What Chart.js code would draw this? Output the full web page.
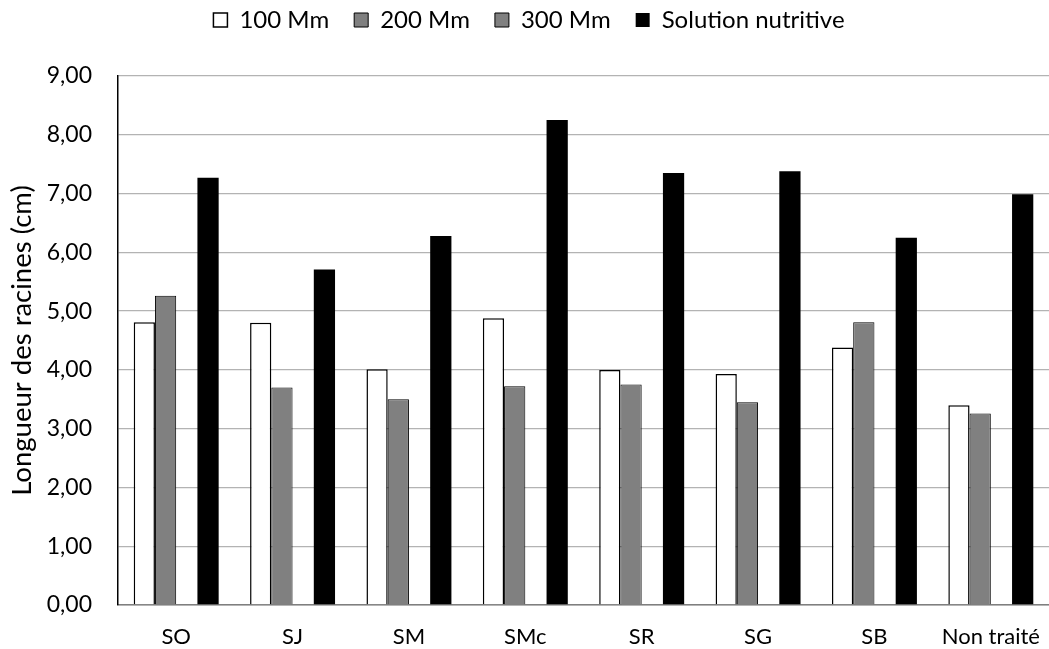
<!DOCTYPE html>
<html><head><meta charset="utf-8">
<script src="https://cdn.jsdelivr.net/npm/chart.js@4/dist/chart.umd.min.js"></script>
<style>html,body{margin:0;padding:0;background:#fff}#wrap{width:1049px;height:649px;position:relative}</style>
</head><body><div id="wrap"><canvas id="c" width="1049" height="649"></canvas></div>
<script>
const categories = ["SO","SJ","SM","SMc","SR","SG","SB","Non traité"];
const s100 = [4.81,4.80,4.01,4.88,4.00,3.93,4.38,3.40];
const s200 = [5.26,3.70,3.50,3.72,3.75,3.45,4.81,3.26];
const s300 = [null,null,null,null,null,null,null,null];
const sSol = [7.27,5.71,6.28,8.25,7.35,7.38,6.25,6.99];
const seriesNames = ["100 Mm","200 Mm","300 Mm","Solution nutritive"];
const yTicks = [0,1,2,3,4,5,6,7,8,9];

const FONT = "Lato, 'Liberation Sans', sans-serif";
Chart.defaults.font.family = FONT;
Chart.defaults.color = '#000';

const legendFix = {id:'legendFix', beforeLayout(chart){
  const lg = chart.legend;
  if (lg && !lg._patched) { const f = lg.fit; lg.fit = function(){ f.call(this); this.height = 93; }; lg._patched = true; }
}};

new Chart(document.getElementById('c'), {
  type: 'bar',
  data: {
    labels: categories,
    datasets: [
      {label: seriesNames[0], data: s100, backgroundColor:'#ffffff', borderColor:'#000', borderWidth:1.5},
      {label: seriesNames[1], data: s200, backgroundColor:'#808080', borderColor:'#000', borderWidth:1},
      {label: seriesNames[2], data: s300, backgroundColor:'#808080', borderColor:'#000', borderWidth:1},
      {label: seriesNames[3], data: sSol, backgroundColor:'#000000', borderColor:'#000', borderWidth:0}
    ]
  },
  plugins:[legendFix],
  options: {
    responsive:false, animation:false,
    layout:{padding:{left:6,right:-3,top:-17,bottom:0}},
    datasets:{bar:{barPercentage:1.0, categoryPercentage:0.73}},
    plugins:{
      tooltip:{enabled:false},
      legend:{position:'top', labels:{font:{size:24}, color:'#000', boxWidth:14, boxHeight:14, padding:25}}
    },
    scales:{
      x:{grid:{display:false, drawTicks:false}, border:{display:true,color:'#7f7f7f',width:1.5},
         afterFit:(s)=>{s.height=44; s.paddingLeft=0; s.paddingRight=0;},
         ticks:{font:{size:22}, color:'#000', padding:19}},
      y:{min:0,max:9, afterBuildTicks:(s)=>{s.ticks=yTicks.map(v=>({value:v}));},
         afterFit:(s)=>{s.width=112;},
         grid:{color:'#b3b3b3', lineWidth:1.3, drawTicks:false},
         border:{display:true,color:'#000',width:1.5},
         ticks:{font:{size:23}, color:'#000', padding:26, callback:(v)=>Number(v).toFixed(2).replace('.',',')},
         title:{display:true,text:'Longueur des racines (cm)', font:{size:27.5}, color:'#000', padding:{top:0,bottom:0}}}
    }
  }
});
</script></body></html>
